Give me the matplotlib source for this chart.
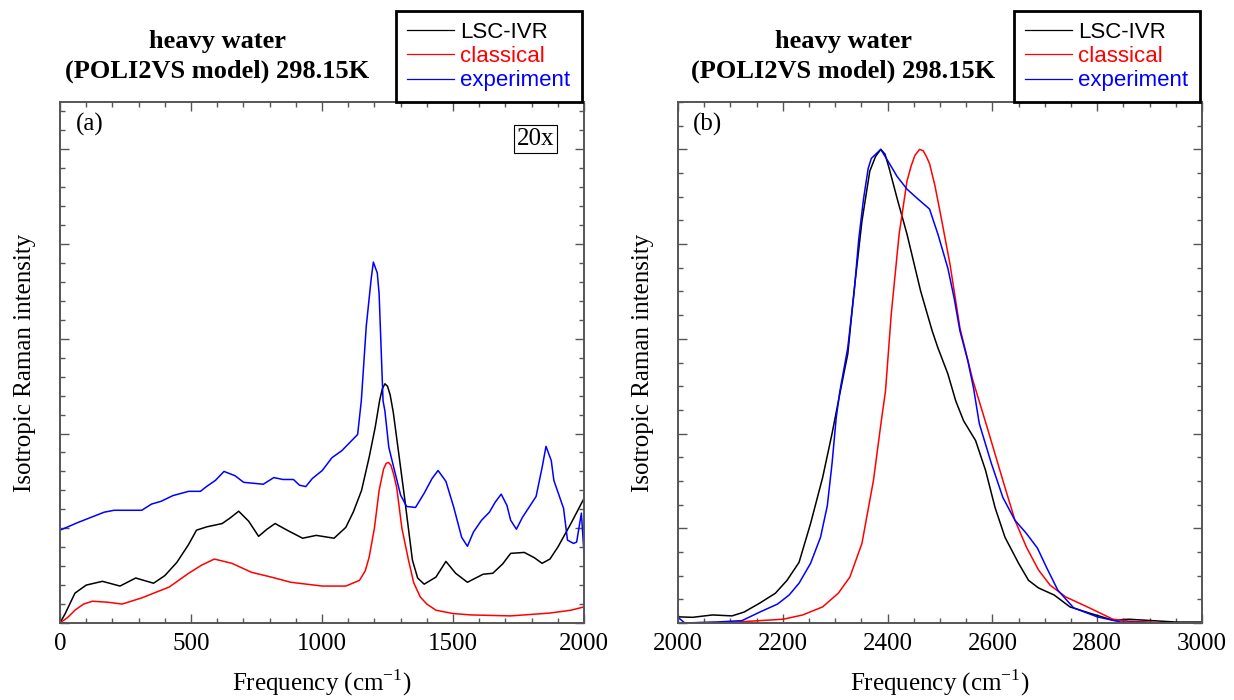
import matplotlib
matplotlib.use("Agg")
import matplotlib.pyplot as plt
from matplotlib.ticker import MultipleLocator

plt.rcParams['font.family'] = ['Liberation Serif', 'DejaVu Serif']
plt.rcParams['mathtext.fontset'] = 'custom'
plt.rcParams['mathtext.rm'] = 'Liberation Serif'

# ---- panel (a): low frequency region (bend / libration), scaled 20x ----
freq_a_lsc = [0, 20, 57, 100, 162, 229, 289, 357, 400, 446, 490, 521, 560, 619, 650,
              682, 720, 758, 790, 821, 870, 926, 978, 1046, 1091, 1120, 1151, 1180,
              1203, 1220, 1230, 1240, 1250, 1260, 1272, 1290, 1315, 1345, 1365, 1390,
              1435, 1473, 1510, 1555, 1615, 1652, 1690, 1720, 1772, 1810, 1840, 1870,
              1900, 1950, 2000]
int_a_lsc = [0.0, 0.02, 0.063, 0.08, 0.088, 0.078, 0.095, 0.084, 0.1, 0.128, 0.165,
             0.196, 0.203, 0.21, 0.222, 0.236, 0.215, 0.183, 0.198, 0.21, 0.195, 0.179,
             0.185, 0.179, 0.202, 0.235, 0.28, 0.35, 0.413, 0.47, 0.494, 0.505, 0.5,
             0.482, 0.445, 0.37, 0.265, 0.133, 0.095, 0.082, 0.097, 0.13, 0.105, 0.086,
             0.103, 0.105, 0.125, 0.147, 0.149, 0.138, 0.126, 0.135, 0.16, 0.21, 0.263]

freq_a_cls = [0, 30, 57, 90, 124, 180, 237, 312, 417, 491, 540, 589, 656, 731, 806,
              881, 1001, 1091, 1143, 1165, 1180, 1200, 1218, 1235, 1245, 1254, 1263,
              1273, 1285, 1305, 1330, 1350, 1375, 1400, 1435, 1500, 1570, 1720, 1870,
              1950, 2000]
int_a_cls = [0.0, 0.012, 0.027, 0.04, 0.046, 0.044, 0.04, 0.053, 0.076, 0.105, 0.122,
             0.135, 0.126, 0.107, 0.097, 0.086, 0.078, 0.078, 0.09, 0.11, 0.139, 0.2,
             0.28, 0.325, 0.337, 0.339, 0.333, 0.315, 0.286, 0.2, 0.133, 0.085, 0.055,
             0.04, 0.027, 0.02, 0.017, 0.015, 0.021, 0.027, 0.034]

freq_a_exp = [0, 72, 169, 207, 267, 312, 349, 386, 431, 491, 536, 559, 593, 626, 668,
              701, 776, 816, 851, 891, 914, 938, 963, 1001, 1038, 1076, 1136, 1150,
              1169, 1188, 1196, 1211, 1218, 1233, 1240, 1255, 1270, 1300, 1323, 1357,
              1390, 1420, 1443, 1473, 1503, 1533, 1555, 1578, 1609, 1639, 1661, 1684,
              1706, 1720, 1742, 1765, 1817, 1840, 1855, 1875, 1885, 1922, 1937, 1960,
              1972, 1990, 2000]
int_a_exp = [0.196, 0.213, 0.234, 0.238, 0.238, 0.238, 0.251, 0.257, 0.269, 0.278,
             0.278, 0.288, 0.301, 0.32, 0.311, 0.297, 0.293, 0.307, 0.303, 0.303, 0.291,
             0.288, 0.305, 0.322, 0.349, 0.364, 0.398, 0.469, 0.627, 0.728, 0.762,
             0.739, 0.695, 0.469, 0.448, 0.371, 0.337, 0.27, 0.246, 0.244, 0.274, 0.305,
             0.322, 0.299, 0.244, 0.181, 0.162, 0.192, 0.217, 0.234, 0.255, 0.272,
             0.248, 0.217, 0.198, 0.223, 0.267, 0.328, 0.373, 0.343, 0.301, 0.242,
             0.175, 0.168, 0.171, 0.232, 0.147]

# ---- panel (b): O-D stretch region, peak normalised ----
freq_b_lsc = [2000, 2028, 2066, 2103, 2126, 2156, 2186, 2208, 2231, 2253, 2276, 2294,
              2309, 2324, 2336, 2351, 2366, 2377, 2387, 2395, 2403, 2418, 2437, 2463,
              2485, 2496, 2515, 2530, 2545, 2568, 2587, 2605, 2624, 2650, 2669, 2688,
              2718, 2748, 2785, 2830, 2860, 2905, 2950, 3000]
int_b_lsc = [0.013, 0.012, 0.017, 0.015, 0.023, 0.042, 0.063, 0.09, 0.128, 0.21, 0.307,
             0.4, 0.485, 0.568, 0.701, 0.848, 0.954, 0.985, 1.0, 0.99, 0.96, 0.897,
             0.821, 0.701, 0.617, 0.581, 0.526, 0.469, 0.427, 0.385, 0.322, 0.244,
             0.181, 0.126, 0.09, 0.074, 0.059, 0.034, 0.021, 0.006, 0.008, 0.005, 0.002,
             0.002]

freq_b_cls = [2000, 2111, 2201, 2238, 2276, 2306, 2328, 2351, 2373, 2388, 2396, 2407,
              2422, 2437, 2445, 2452, 2461, 2468, 2474, 2480, 2490, 2500, 2519, 2538,
              2562, 2590, 2620, 2643, 2665, 2688, 2710, 2740, 2785, 2830, 2860, 2935,
              3000]
int_b_cls = [0.0, 0.002, 0.008, 0.017, 0.034, 0.063, 0.097, 0.168, 0.301, 0.427, 0.49,
             0.653, 0.821, 0.933, 0.965, 0.987, 1.0, 0.997, 0.985, 0.97, 0.925, 0.869,
             0.758, 0.623, 0.515, 0.413, 0.301, 0.217, 0.16, 0.112, 0.08, 0.055, 0.032,
             0.008, 0.004, 0.0, 0.0]

freq_b_exp = [2000, 2013, 2073, 2122, 2156, 2190, 2212, 2231, 2253, 2272, 2285, 2294,
              2302, 2309, 2324, 2336, 2345, 2354, 2363, 2369, 2387, 2403, 2418, 2437,
              2456, 2480, 2496, 2515, 2527, 2538, 2553, 2564, 2575, 2598, 2620, 2643,
              2665, 2686, 2703, 2725, 2755, 2800, 2845, 2935, 3000]
int_b_exp = [0.012, 0.0, 0.002, 0.005, 0.023, 0.04, 0.059, 0.084, 0.126, 0.181, 0.248,
             0.337, 0.434, 0.49, 0.581, 0.697, 0.811, 0.895, 0.96, 0.981, 1.0, 0.971,
             0.943, 0.916, 0.897, 0.874, 0.821, 0.749, 0.686, 0.617, 0.554, 0.496,
             0.421, 0.337, 0.265, 0.217, 0.189, 0.158, 0.118, 0.069, 0.032, 0.013, 0.002,
             0.0, 0.0]

series_labels = ["LSC-IVR", "classical", "experiment"]
series_colors = ["black", "red", "blue"]
title_text = "heavy water\n(POLI2VS model) 298.15K"


def style_axes(ax, xlim, xmajor, xminor, yminor):
    ax.set_xlim(*xlim)
    ax.set_ylim(0, 1.1)
    ax.xaxis.set_major_locator(MultipleLocator(xmajor))
    ax.xaxis.set_minor_locator(MultipleLocator(xminor))
    ax.yaxis.set_major_locator(MultipleLocator(0.2))
    ax.yaxis.set_minor_locator(MultipleLocator(yminor))
    ax.tick_params(which='both', direction='in', top=True, right=True,
                   color='#555555', width=1.0, labelsize=18, pad=7)
    ax.tick_params(which='major', length=6.5)
    ax.tick_params(which='minor', length=3.3)
    ax.tick_params(axis='y', labelleft=False)
    for sp in ax.spines.values():
        sp.set_color('#555555')
        sp.set_linewidth(1.4)
    ax.set_xlabel(r"Frequency (cm$^{\mathregular{-1}}$)", fontsize=18, labelpad=9)
    ax.set_ylabel("Isotropic Raman intensity", fontsize=18, labelpad=10)


def add_legend(ax, x0):
    leg = ax.legend(loc='upper left', bbox_to_anchor=(x0, 1 - 11 / 700),
                    bbox_transform=ax.figure.transFigure, borderaxespad=0,
                    prop={'family': 'Liberation Sans', 'size': 16},
                    handlelength=2.1, handletextpad=0.3, labelspacing=0.14,
                    borderpad=0.5, fancybox=False, framealpha=1)
    leg.get_frame().set_edgecolor('black')
    leg.get_frame().set_linewidth(2.0)
    for txt, col in zip(leg.get_texts(), series_colors):
        txt.set_color(col)
    for line in leg.get_lines():
        line.set_linewidth(0.9)


fig = plt.figure(figsize=(12.34, 7.0), dpi=100)
ax_a = fig.add_axes([60 / 1234, 77 / 700, 524 / 1234, 521 / 700])
ax_b = fig.add_axes([678 / 1234, 77 / 700, 524 / 1234, 521 / 700])

# panel (a)
for fx, iy, lab, col in zip([freq_a_lsc, freq_a_cls, freq_a_exp],
                            [int_a_lsc, int_a_cls, int_a_exp],
                            series_labels, series_colors):
    ax_a.plot(fx, iy, color=col, lw=1.1, label=lab)
style_axes(ax_a, (0, 2000), 500, 100, 0.04)
ax_a.text(0.057, 0.956, "(a)", transform=ax_a.transAxes, fontsize=18,
          ha='center', va='center')
ax_a.text(0.907, 0.929, "20x", transform=ax_a.transAxes, fontsize=18,
          ha='center', va='center',
          bbox=dict(boxstyle='square,pad=0.12', fc='white', ec='black', lw=0.8))
ax_a.text(0.30, 1.088, title_text, transform=ax_a.transAxes, fontsize=19,
          fontweight='bold', ha='center', va='center', linespacing=1.38)
add_legend(ax_a, 396 / 1234)

# panel (b)
for fx, iy, lab, col in zip([freq_b_lsc, freq_b_cls, freq_b_exp],
                            [int_b_lsc, int_b_cls, int_b_exp],
                            series_labels, series_colors):
    ax_b.plot(fx, iy, color=col, lw=1.1, label=lab)
style_axes(ax_b, (2000, 3000), 200, 50, 0.05)
ax_b.text(0.057, 0.956, "(b)", transform=ax_b.transAxes, fontsize=18,
          ha='center', va='center')
ax_b.text(0.315, 1.088, title_text, transform=ax_b.transAxes, fontsize=19,
          fontweight='bold', ha='center', va='center', linespacing=1.38)
add_legend(ax_b, 1014 / 1234)

fig.savefig("out.png", dpi=100)
